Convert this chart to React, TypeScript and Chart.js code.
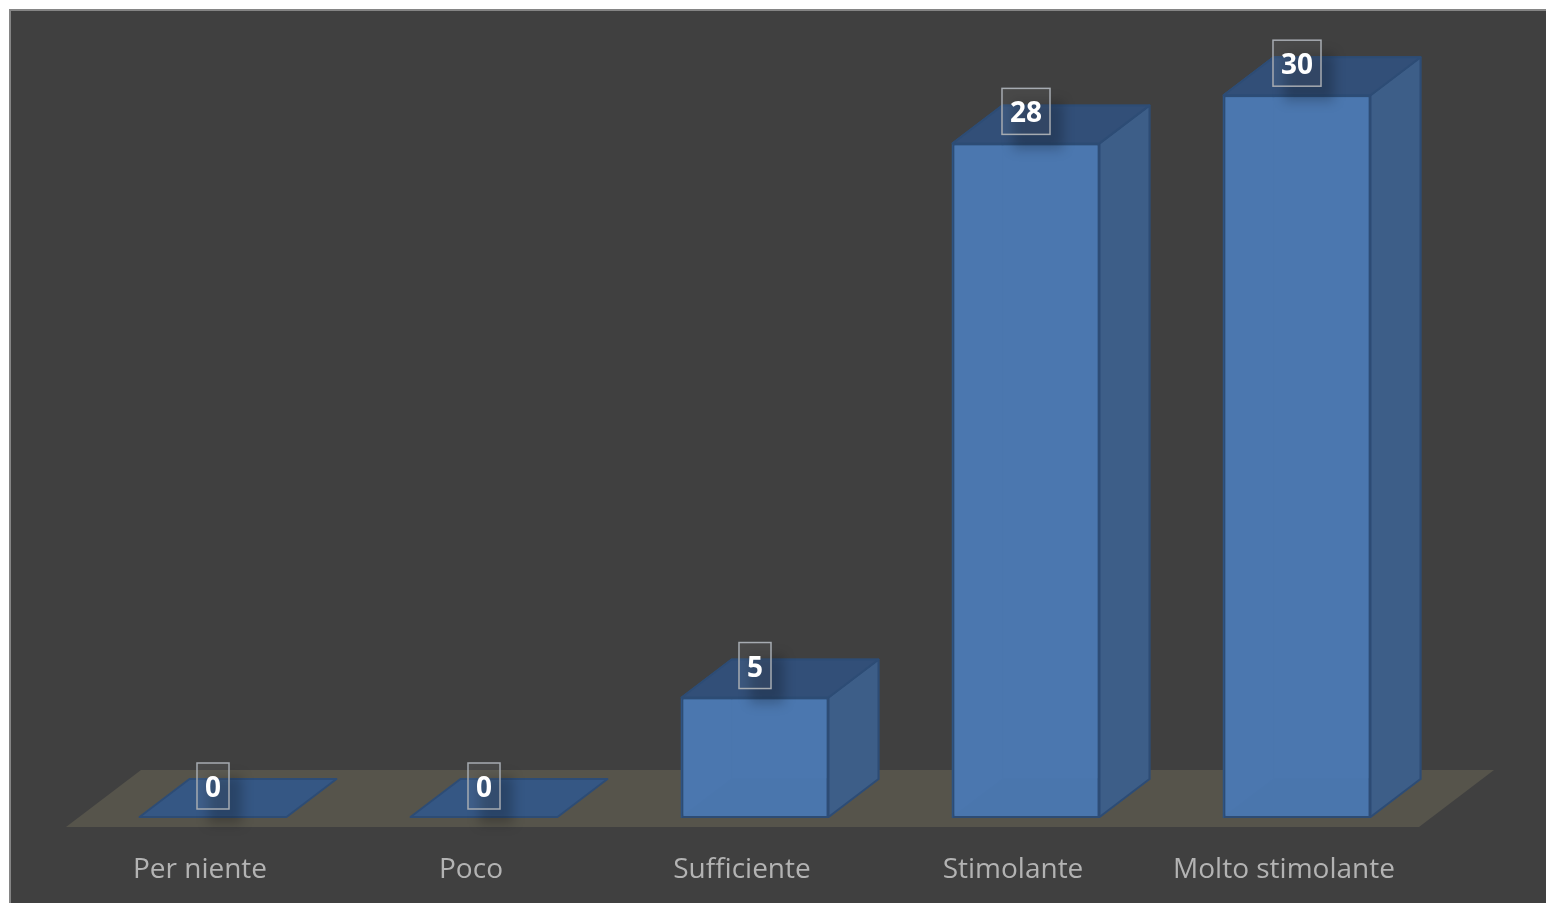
import React, { useEffect, useRef } from "react";
import { Chart, registerables } from "chart.js";

Chart.register(...registerables);

const categories = ["Per niente", "Poco", "Sufficiente", "Stimolante", "Molto stimolante"];
const values = [0, 0, 5, 28, 30];

const DX = 50;
const DY = 38;

function poly(ctx: CanvasRenderingContext2D, pts: number[][], fill: string, stroke?: string, lw = 2) {
  ctx.beginPath();
  pts.forEach((p, i) => (i ? ctx.lineTo(p[0], p[1]) : ctx.moveTo(p[0], p[1])));
  ctx.closePath();
  ctx.fillStyle = fill;
  ctx.fill();
  if (stroke) {
    ctx.strokeStyle = stroke;
    ctx.lineWidth = lw;
    ctx.lineJoin = "round";
    ctx.stroke();
  }
}

const panelPlugin = {
  id: "panel",
  beforeDraw(chart: any) {
    const { ctx, width, height } = chart;
    ctx.save();
    ctx.fillStyle = "#ffffff";
    ctx.fillRect(0, 0, width, height);
    ctx.fillStyle = "#858585";
    ctx.fillRect(9, 9, width - 9, height - 9);
    ctx.fillStyle = "#404040";
    ctx.fillRect(11, 11, width - 11, height - 11);
    ctx.restore();
  },
};

const boxes3d = {
  id: "boxes3d",
  beforeDatasetsDraw(chart: any) {
    const { ctx, chartArea } = chart;
    const base = chartArea.bottom;
    ctx.save();
    poly(
      ctx,
      [
        [chartArea.left - 11.5, base + 9],
        [chartArea.right - 13.5, base + 9],
        [chartArea.right + 61.5, base - 48],
        [chartArea.left + 63.5, base - 48],
      ],
      "#56544b"
    );
    const edge = "#2d4c75";
    chart.getDatasetMeta(0).data.forEach((bar: any, i: number) => {
      const l = bar.x - bar.width / 2;
      const r = bar.x + bar.width / 2;
      const t = bar.y;
      const b = bar.base - 1;
      const flat = values[i] === 0;
      const top = flat ? b : t;
      // back wall and bottom, seen through the translucent front
      poly(ctx, [[l, b], [r, b], [r + DX, b - DY], [l + DX, b - DY]], "#355784", flat ? edge : "#2f5687", flat ? 2 : 1.5);
      if (!flat) {
        poly(ctx, [[l + DX, top - DY], [r + DX, top - DY], [r + DX, b - DY], [l + DX, b - DY]], "#3f6a9c", "#2f5687", 1.5);
        poly(ctx, [[l, top], [l + DX, top - DY], [l + DX, b - DY], [l, b]], "#3f6a9c", "#2f5687", 1.5);
        poly(ctx, [[r, top], [r + DX, top - DY], [r + DX, b - DY], [r, b]], "#3d5e88", edge);
        poly(ctx, [[l, top], [r, top], [r + DX, top - DY], [l + DX, top - DY]], "#324f78", edge);
      }
    });
    ctx.restore();
  },
  afterDatasetsDraw(chart: any) {
    const { ctx } = chart;
    const meta = chart.getDatasetMeta(0);
    ctx.save();
    ctx.font = "700 28px 'Open Sans'";
    meta.data.forEach((bar: any, i: number) => {
      const text = String(values[i]);
      const w = ctx.measureText(text).width + 16;
      const h = 46;
      const x = bar.x - w / 2;
      const y = bar.y - 32 - h / 2;
      // soft shadow
      ctx.save();
      ctx.filter = "blur(6px)";
      ctx.fillStyle = "rgba(0,0,0,0.22)";
      ctx.fillRect(x + 11, y + 13, w + 2, h + 2);
      ctx.restore();
      ctx.fillStyle = "rgba(255,255,255,0.05)";
      ctx.fillRect(x, y, w, h);
      ctx.strokeStyle = "#a6abb1";
      ctx.lineWidth = 1.5;
      ctx.strokeRect(x, y, w, h);
      ctx.fillStyle = "#ffffff";
      ctx.textAlign = "center";
      ctx.textBaseline = "middle";
      ctx.fillText(text, bar.x, y + h / 2 + 3);
    });
    ctx.restore();
  },
};

export default function App() {
  const ref = useRef<HTMLCanvasElement>(null);
  useEffect(() => {
    document.body.style.margin = "0";
    const chart = new Chart(ref.current!, {
      type: "bar",
      data: {
        labels: categories,
        datasets: [
          {
            data: values,
            backgroundColor: "rgba(76,120,176,0.93)",
            borderColor: "#2d4c75",
            borderWidth: 2,
            borderSkipped: false,
            barPercentage: 0.5424,
            categoryPercentage: 1,
          },
        ],
      },
      options: {
        animation: false,
        responsive: false,
        devicePixelRatio: 1,
        layout: { padding: { left: 77.5, right: 113.5, top: 47, bottom: 0 } },
        plugins: { legend: { display: false }, title: { display: false }, tooltip: { enabled: false } },
        scales: {
          x: {
            grid: { display: false, drawTicks: false },
            border: { display: false },
            afterFit(scale: any) {
              scale.height = 85;
            },
            ticks: {
              color: "#b3b3b3",
              font: { family: "'Open Sans'", size: 28 },
              padding: 35,
              labelOffset: -13,
              autoSkip: false,
              maxRotation: 0,
              minRotation: 0,
            },
          },
          y: { display: false, min: 0, max: 32 },
        },
      },
      plugins: [panelPlugin, boxes3d],
    } as any);
    return () => chart.destroy();
  }, []);
  return (
    <canvas
      ref={ref}
      width={1546}
      height={903}
      style={{ display: "block", position: "fixed", left: 0, top: 0, width: 1546, height: 903 }}
    />
  );
}
